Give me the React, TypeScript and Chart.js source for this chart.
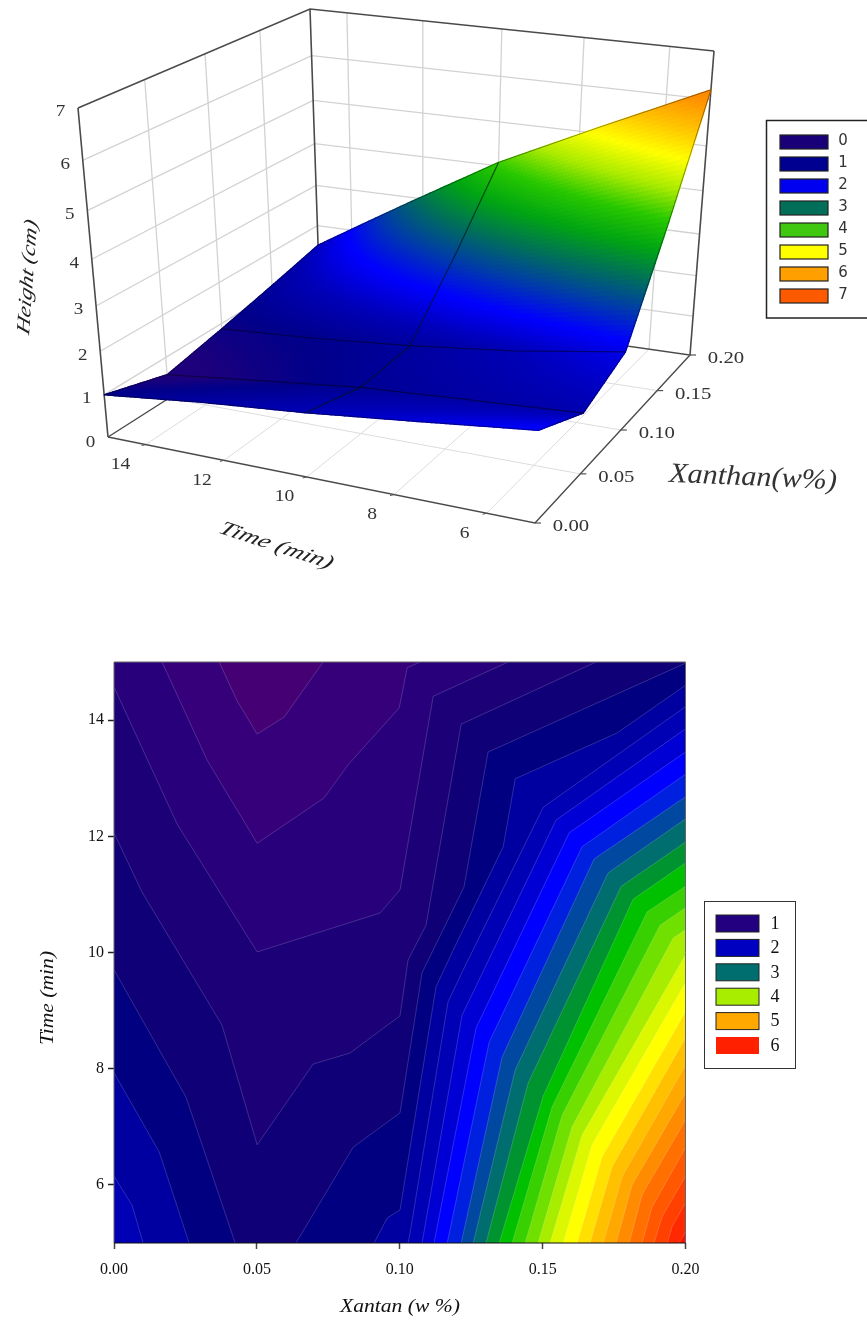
import React, { useEffect, useRef } from "react";
import { Chart, registerables } from "chart.js";
Chart.register(...registerables);

type Pt = [number, number];
type Gap = null;

// ---------- Surface data (height in cm) ----------
const xanthanValues = [0, 0.05, 0.1, 0.15, 0.2];
const timeValues = [15, 12.5, 10, 7.5, 5];
const heightAt15 = [1.0, 0.58, 0.87, 1.18, 1.5];
const heightAt12_5 = [1.26, 0.84, 1.0, 1.9, 2.8];
const heightAt10 = [1.47, 1.1, 1.2, 2.6, 4.08];
const heightAt7_5 = [1.74, 1.25, 1.47, 3.3, 5.15];
const heightAt5 = [2.03, 1.4, 1.85, 3.98, 6.2];
const heightRows = [heightAt15, heightAt12_5, heightAt10, heightAt7_5, heightAt5];

const heightTicks = [0, 1, 2, 3, 4, 5, 6, 7];
const timeTicks3d = [14, 12, 10, 8, 6];
const xanthanTicks3d = [0, 0.05, 0.1, 0.15, 0.2];
const legendTop = ["0", "1", "2", "3", "4", "5", "6", "7"];
const legendTopColors = ["#1a0078", "#000090", "#0000f0", "#006e58", "#40c810", "#ffff00", "#ffa000", "#ff5a00"];
const legendBottom = ["1", "2", "3", "4", "5", "6"];
const legendBottomColors = ["#220080", "#0000c0", "#006e6e", "#a8ec00", "#ffa800", "#ff2000"];

// ---------- Contour lines: [xanthan, time] ----------
const contourA: (Pt | Gap)[] = [[0.0368, 15], [0.0431, 14.33], [0.0501, 13.76], [0.0595, 14.05], [0.0732, 15]];
const contourB: (Pt | Gap)[] = [[0.0168, 15], [0.0326, 13.31], [0.0501, 11.88], [0.0735, 12.66], [0.0819, 13.23], [0.0998, 14.21], [0.1026, 14.9], [0.1071, 15]];
const contourC: (Pt | Gap)[] = [[0, 14.57], [0.0221, 12.21], [0.0501, 10.01], [0.0931, 10.68], [0.1001, 11.08], [0.1117, 14.41], [0.1379, 15]];
const contour3: (Pt | Gap)[] = [[0, 12.06], [0.0098, 11.04], [0.0378, 8.75], [0.0501, 6.69], [0.0697, 8.08], [0.0826, 8.27], [0.1001, 8.91], [0.1029, 9.87], [0.1092, 10.47], [0.1215, 13.93], [0.1687, 15]];
const contour4: (Pt | Gap)[] = [[0, 9.7], [0.0252, 7.51], [0.0424, 5], null, [0.0637, 5], [0.0837, 6.65], [0.1001, 7.24], [0.1078, 9.65], [0.1225, 11.13], [0.1309, 13.45], [0.2, 14.98]];
const contour5: (Pt | Gap)[] = [[0, 7.93], [0.0158, 6.57], [0.0263, 5], null, [0.091, 5], [0.0956, 5.43], [0.1001, 5.57], [0.1127, 9.41], [0.1187, 10.04], [0.1362, 11.82], [0.1404, 12.99], [0.1761, 13.78], [0.2, 14.6]];
const contour6: (Pt | Gap)[] = [[0, 6.15], [0.0063, 5.65], [0.0102, 5], null, [0.1029, 5], [0.1036, 5.17], [0.1169, 9.15], [0.1222, 9.7], [0.1502, 12.5], [0.2, 14.23]];
const contour7: (Pt | Gap)[] = [[0.1078, 5], [0.1218, 8.92], [0.1547, 12.28], [0.2, 13.85]];
const contour8: (Pt | Gap)[] = [[0.112, 5], [0.1267, 8.7], [0.1593, 12.06], [0.2, 13.45]];
const contour9: (Pt | Gap)[] = [[0.1166, 5], [0.1313, 8.46], [0.1638, 11.82], [0.2, 13.07]];
const contour10: (Pt | Gap)[] = [[0.1215, 5], [0.1358, 8.2], [0.168, 11.61], [0.2, 12.68]];
const contour11: (Pt | Gap)[] = [[0.1257, 5], [0.1404, 7.98], [0.1729, 11.37], [0.2, 12.3]];
const contour12: (Pt | Gap)[] = [[0.1302, 5], [0.1449, 7.75], [0.1775, 11.14], [0.2, 11.9]];
const contour13: (Pt | Gap)[] = [[0.1348, 5], [0.1502, 7.53], [0.1817, 10.92], [0.2, 11.54]];
const contour14: (Pt | Gap)[] = [[0.1393, 5], [0.1533, 7.34], [0.1866, 10.7], [0.2, 11.14]];
const contour15: (Pt | Gap)[] = [[0.1439, 5], [0.1568, 7.2], [0.1911, 10.47], [0.2, 10.77]];
const contour16: (Pt | Gap)[] = [[0.1484, 5], [0.1603, 7.0], [0.1957, 10.25], [0.2, 10.39]];
const contour17: (Pt | Gap)[] = [[0.1526, 5], [0.1638, 6.86], [0.2, 9.96]];
const contour18: (Pt | Gap)[] = [[0.1572, 5], [0.1673, 6.69], [0.2, 9.48]];
const contour19: (Pt | Gap)[] = [[0.1621, 5], [0.1708, 6.48], [0.2, 8.98]];
const contour20: (Pt | Gap)[] = [[0.1666, 5], [0.1743, 6.31], [0.2, 8.53]];
const contour21: (Pt | Gap)[] = [[0.1712, 5], [0.1778, 6.14], [0.2, 8.06]];
const contour22: (Pt | Gap)[] = [[0.1757, 5], [0.1813, 6.0], [0.2, 7.58]];
const contour23: (Pt | Gap)[] = [[0.1803, 5], [0.1848, 5.83], [0.2, 7.12]];
const contour24: (Pt | Gap)[] = [[0.1848, 5], [0.1883, 5.62], [0.2, 6.64]];
const contour25: (Pt | Gap)[] = [[0.189, 5], [0.1918, 5.45], [0.2, 6.15]];
const contour26: (Pt | Gap)[] = [[0.1936, 5], [0.1953, 5.28], [0.2, 5.69]];
const contour27: (Pt | Gap)[] = [[0.1978, 5], [0.2, 5.19]];

// lowest band first: each line bounds the region below it
const contourLines = [contourA, contourB, contourC, contour3, contour4, contour5, contour6, contour7, contour8, contour9,
  contour10, contour11, contour12, contour13, contour14, contour15, contour16, contour17, contour18, contour19,
  contour20, contour21, contour22, contour23, contour24, contour25, contour26, contour27];
const bandColors = ["#450074", "#35007a", "#28007c", "#1c0078", "#100078", "#000080", "#0000a0", "#0000b4", "#0000d4", "#0000ff",
  "#0020e0", "#0048a0", "#006e6e", "#009430", "#00c000", "#38d000", "#70e000", "#a8ec00", "#dcf800", "#ffff00",
  "#ffe000", "#ffc000", "#ffa800", "#ff8c00", "#ff7000", "#ff5800", "#ff4000", "#ff2800"];
const topBandColor = "#ff1000";
const timeTicks2d = [6, 8, 10, 12, 14];

// ---------- 3D projection ----------
type XY = [number, number];
function quadMap(p0: XY, p1: XY, p2: XY, p3: XY) {
  const dx1 = p1[0] - p2[0], dx2 = p3[0] - p2[0], sx = p0[0] - p1[0] + p2[0] - p3[0];
  const dy1 = p1[1] - p2[1], dy2 = p3[1] - p2[1], sy = p0[1] - p1[1] + p2[1] - p3[1];
  const den = dx1 * dy2 - dx2 * dy1;
  const g = (sx * dy2 - dx2 * sy) / den, h = (dx1 * sy - sx * dy1) / den;
  const a = p1[0] - p0[0] + g * p1[0], b = p3[0] - p0[0] + h * p3[0], c = p0[0];
  const d = p1[1] - p0[1] + g * p1[1], e = p3[1] - p0[1] + h * p3[1], f = p0[1];
  return (s: number, r: number): XY => {
    const w = g * s + h * r + 1;
    return [(a * s + b * r + c) / w, (d * s + e * r + f) / w];
  };
}
const floorMap = quadMap([108, 437], [320, 302], [690, 355], [535, 523]);
const roofMap = quadMap([78, 108], [310, 9], [714, 51], [548, 173]);
const ZK = 1.134;
function project(x: number, t: number, z: number): { x: number; y: number } {
  const s = x / 0.2, r = (15 - t) / 10;
  const F = floorMap(s, r), T = roofMap(s, r);
  const f = z / 7;
  const p = f / (ZK - (ZK - 1) * f);
  return { x: F[0] + (T[0] - F[0]) * p, y: F[1] + (T[1] - F[1]) * p };
}
function heightOf(x: number, t: number) {
  const i = Math.min(3, Math.floor(x / 0.05 + 1e-9));
  const j = Math.min(3, Math.floor((15 - t) / 2.5 + 1e-9));
  const u = x / 0.05 - i, v = (15 - t) / 2.5 - j;
  const a = heightRows[j][i], b = heightRows[j][i + 1], c = heightRows[j + 1][i], d = heightRows[j + 1][i + 1];
  return (a * (1 - u) + b * u) * (1 - v) + (c * (1 - u) + d * u) * v;
}
const colorStops: [number, number[]][] = [
  [0, [34, 0, 120]], [0.7, [30, 0, 124]], [1, [0, 0, 140]], [1.5, [0, 0, 185]], [2, [0, 0, 255]], [2.5, [0, 60, 170]],
  [3, [0, 112, 90]], [3.5, [0, 165, 20]], [4, [40, 200, 0]], [4.5, [170, 235, 0]], [5, [255, 255, 0]], [5.5, [255, 195, 0]],
  [6, [255, 145, 0]], [7, [255, 80, 0]],
];
function colorOf(z: number) {
  for (let i = 1; i < colorStops.length; i++) {
    if (z <= colorStops[i][0]) {
      const [z0, c0] = colorStops[i - 1], [z1, c1] = colorStops[i];
      const q = Math.max(0, (z - z0) / (z1 - z0));
      return `rgb(${c0.map((v, k) => Math.round(v + (c1[k] - v) * q)).join(",")})`;
    }
  }
  return "rgb(255,80,0)";
}

function text(ctx: CanvasRenderingContext2D, str: string, x: number, y: number,
  o: { font: string; sx?: number; rot?: number; skew?: number; color?: string }) {
  ctx.save();
  ctx.translate(x, y);
  if (o.rot) ctx.rotate((o.rot * Math.PI) / 180);
  if (o.skew) ctx.transform(1, 0, o.skew, 1, 0, 0);
  if (o.sx) ctx.scale(o.sx, 1);
  ctx.font = o.font;
  ctx.fillStyle = o.color || "#222";
  ctx.textAlign = "center";
  ctx.textBaseline = "middle";
  ctx.fillText(str, 0, 0);
  ctx.restore();
}

function line(points: { x: number; y: number }[], color: string, width: number, extra: any = {}) {
  return { data: points, showLine: true, borderColor: color, borderWidth: width, pointRadius: 0, tension: 0, ...extra };
}

function build3dDatasets() {
  const wall = "#d2d2d2", floor = "#dcdcdc", box = "#4a4a4a";
  const top: any[] = [];
  const poly = (pts: number[][]) => pts.map(([x, t]) => project(x, t, heightOf(x, t)));
  [0.05, 0.1].forEach((x) => top.push(line(poly(timeValues.map((t) => [x, t])), "rgba(0,0,20,0.5)", 1.2)));
  top.push(line(poly(xanthanValues.map((x) => [x, 10])), "rgba(0,20,20,0.65)", 1.2));
  const outline = [
    ...xanthanValues.map((x) => [x, 15]),
    ...timeValues.slice(1).map((t) => [0.2, t]),
    ...xanthanValues.slice(0, 4).reverse().map((x) => [x, 5]),
    ...timeValues.slice(0, 4).reverse().map((t) => [0, t]),
  ];
  top.push(line(poly(outline), "rgba(0,0,0,0.4)", 1, { surfaceBelow: true }));

  const under: any[] = [];
  const C = (x: number, t: number, z: number) => project(x, t, z);
  under.push(line([C(0, 15, 7), C(0.2, 15, 7), C(0.2, 5, 7)], box, 1.6));
  under.push(line([C(0, 15, 0), C(0, 15, 7)], box, 1.6));
  under.push(line([C(0.2, 15, 0), C(0.2, 15, 7)], box, 1.6));
  under.push(line([C(0.2, 5, 0), C(0.2, 5, 7)], box, 1.6));
  under.push(line([C(0, 15, 0), C(0, 5, 0), C(0.2, 5, 0), C(0.2, 15, 0), C(0, 15, 0)], box, 1.4));
  heightTicks.slice(1, 7).forEach((z) => under.push(line([C(0, 15, z), C(0.2, 15, z), C(0.2, 5, z)], wall, 1.3)));
  xanthanTicks3d.slice(1, 4).forEach((x) => under.push(line([C(x, 15, 0), C(x, 15, 7)], wall, 1.3)));
  timeTicks3d.forEach((t) => under.push(line([C(0.2, t, 0), C(0.2, t, 7)], wall, 1.3)));
  xanthanTicks3d.slice(1, 4).forEach((x) => under.push(line([C(x, 5, 0), C(x, 15, 0)], floor, 1)));
  timeTicks3d.forEach((t) => under.push(line([C(0, t, 0), C(0.2, t, 0)], floor, 1)));
  return [...top, ...under];
}

const surfacePlugin = {
  id: "surface3d",
  beforeDatasetDraw(chart: any, args: any) {
    if (!chart.data.datasets[args.index].surfaceBelow) return;
    const ctx = chart.ctx, sx = chart.scales.x, sy = chart.scales.y;
    const P = (x: number, t: number) => {
      const p = project(x, t, heightOf(x, t));
      return [sx.getPixelForValue(p.x), sy.getPixelForValue(p.y)];
    };
    const n = 100;
    ctx.save();
    ctx.lineWidth = 1.4;
    ctx.lineJoin = "round";
    for (let j = 0; j < n; j++) {
      for (let i = n - 1; i >= 0; i--) {
        const x0 = (i / n) * 0.2, x1 = ((i + 1) / n) * 0.2;
        const t0 = 15 - (j / n) * 10, t1 = 15 - ((j + 1) / n) * 10;
        const q = [P(x0, t0), P(x1, t0), P(x1, t1), P(x0, t1)];
        const col = colorOf(heightOf((x0 + x1) / 2, (t0 + t1) / 2));
        ctx.fillStyle = col;
        ctx.strokeStyle = col;
        ctx.beginPath();
        q.forEach((p, k) => (k ? ctx.lineTo(p[0], p[1]) : ctx.moveTo(p[0], p[1])));
        ctx.closePath();
        ctx.fill();
        ctx.stroke();
      }
    }
    ctx.restore();
  },
  afterDraw(chart: any) {
    const ctx = chart.ctx as CanvasRenderingContext2D;
    const serif = "'Liberation Serif'";
    heightTicks.forEach((z) => {
      const p = project(0, 15, z);
      text(ctx, String(z), p.x - 17.5, p.y + (z === 0 ? 6 : 4), { font: `17px ${serif}`, sx: 1.12, color: "#333" });
    });
    timeTicks3d.forEach((t) => {
      const p = project(0, t, 0);
      text(ctx, String(t), p.x - 22 + (t === 14 ? -3 : 0), p.y + 20, { font: `17px ${serif}`, sx: 1.15, color: "#333" });
      ctx.strokeStyle = "#555";
      ctx.lineWidth = 1;
      ctx.beginPath();
      ctx.moveTo(p.x, p.y);
      ctx.lineTo(p.x - 4, p.y + 1);
      ctx.stroke();
    });
    xanthanTicks3d.forEach((x) => {
      const p = project(x, 5, 0);
      text(ctx, x.toFixed(2), p.x + 36, p.y + 4, { font: `17px ${serif}`, sx: 1.22, color: "#333" });
      ctx.strokeStyle = "#555";
      ctx.lineWidth = 1.2;
      ctx.beginPath();
      ctx.moveTo(p.x, p.y);
      ctx.lineTo(p.x + 6, p.y);
      ctx.stroke();
    });
    text(ctx, "Height (cm)", 28, 277, { font: `italic 19px ${serif}`, sx: 1.25, rot: -86, skew: -0.25 });
    text(ctx, "Time (min)", 276, 546, { font: `italic 20px ${serif}`, sx: 1.35, rot: 18, skew: -0.3 });
    text(ctx, "Xanthan(w%)", 753, 478, { font: `italic 28px ${serif}`, sx: 1.08, rot: 2.5, color: "#333" });
    ctx.strokeStyle = "#222";
    ctx.lineWidth = 1.5;
    ctx.strokeRect(766.5, 120.5, 110, 197.5);
    legendTop.forEach((l, i) => {
      const y = 135 + i * 22;
      ctx.fillStyle = legendTopColors[i];
      ctx.fillRect(780, y, 48, 14);
      ctx.strokeStyle = "#222";
      ctx.lineWidth = 1.2;
      ctx.strokeRect(780, y, 48, 14);
      text(ctx, l, 843, y + 6, { font: "15px 'DejaVu Sans'", color: "#333" });
    });
  },
};

const contourPlugin = {
  id: "contourFill",
  beforeDatasetsDraw(chart: any) {
    const ctx = chart.ctx as CanvasRenderingContext2D;
    const { left, right, top, bottom } = chart.chartArea;
    const sx = chart.scales.x, sy = chart.scales.y;
    ctx.save();
    ctx.beginPath();
    ctx.rect(left, top, right - left, bottom - top);
    ctx.clip();
    ctx.fillStyle = topBandColor;
    ctx.fillRect(left, top, right - left, bottom - top);
    for (let k = contourLines.length - 1; k >= 0; k--) {
      const pts = contourLines[k].filter(Boolean) as Pt[];
      const closure: Pt[] = k <= 1 ? [] : k <= 3 ? [[0, 15]] : k <= 6 ? [[0.2, 15], [0, 15]] : [[0.2, 15], [0, 15], [0, 5]];
      ctx.beginPath();
      [...pts, ...closure].forEach((p, i) => {
        const X = sx.getPixelForValue(p[0]), Y = sy.getPixelForValue(p[1]);
        if (i) ctx.lineTo(X, Y);
        else ctx.moveTo(X, Y);
      });
      ctx.closePath();
      ctx.fillStyle = bandColors[k];
      ctx.fill();
    }
    ctx.restore();
  },
  afterDraw(chart: any) {
    const ctx = chart.ctx as CanvasRenderingContext2D;
    const { left, right, top, bottom } = chart.chartArea;
    ctx.strokeStyle = "#666";
    ctx.lineWidth = 1;
    ctx.beginPath();
    ctx.moveTo(left, bottom);
    ctx.lineTo(left, top);
    ctx.lineTo(right, top);
    ctx.lineTo(right, bottom);
    ctx.stroke();
    ctx.strokeStyle = "#111";
    ctx.beginPath();
    ctx.moveTo(left, bottom);
    ctx.lineTo(right, bottom);
    ctx.stroke();
    const serif = "'Liberation Serif'";
    text(ctx, "Xantan (w %)", 400, 667, { font: `italic 18px ${serif}`, sx: 1.2, color: "#111" });
    text(ctx, "Time (min)", 48, 358, { font: `italic 18px ${serif}`, sx: 1.2, rot: -90, color: "#111" });
    ctx.strokeStyle = "#333";
    ctx.lineWidth = 1;
    ctx.strokeRect(704.5, 261.5, 91, 167);
    legendBottom.forEach((l, i) => {
      const y = 275 + i * 24.4;
      ctx.fillStyle = legendBottomColors[i];
      ctx.fillRect(716, y, 43, 17);
      if (i < 5) {
        ctx.strokeStyle = "#222";
        ctx.strokeRect(716, y, 43, 17);
      }
      text(ctx, l, 775, y + 9, { font: `18px ${serif}`, color: "#111" });
    });
  },
};

export default function App() {
  const topRef = useRef<HTMLCanvasElement>(null);
  const botRef = useRef<HTMLCanvasElement>(null);
  useEffect(() => {
    const top = new Chart(topRef.current!, {
      type: "scatter",
      data: { datasets: build3dDatasets() },
      plugins: [surfacePlugin],
      options: {
        animation: false,
        responsive: false,
        devicePixelRatio: 1,
        layout: { padding: 0 },
        plugins: { legend: { display: false }, tooltip: { enabled: false } },
        scales: {
          x: { type: "linear", min: 0, max: 867, display: false },
          y: { type: "linear", min: 0, max: 640, reverse: true, display: false },
        },
      },
    } as any);
    const tickFont = { family: "'Liberation Serif'", size: 16 };
    const bot = new Chart(botRef.current!, {
      type: "scatter",
      data: {
        datasets: contourLines.map((ln) => ({
          data: ln.map((p) => (p ? { x: p[0], y: p[1] } : { x: null, y: null })),
          showLine: true,
          spanGaps: false,
          borderColor: "rgba(255,255,255,0.22)",
          borderWidth: 0.8,
          pointRadius: 0,
          tension: 0,
        })),
      },
      plugins: [contourPlugin],
      options: {
        animation: false,
        responsive: false,
        devicePixelRatio: 1,
        layout: { padding: { top: 22, right: 181.5, left: 0, bottom: 0 } },
        plugins: { legend: { display: false }, tooltip: { enabled: false } },
        scales: {
          x: {
            type: "linear",
            min: 0,
            max: 0.2,
            afterBuildTicks: (s: any) => { s.ticks = [0, 0.05, 0.1, 0.15, 0.2].map((value) => ({ value })); },
            afterFit: (s: any) => { s.height = 77; },
            grid: { drawOnChartArea: false, tickLength: 6, tickColor: "#444", tickWidth: 1.5 },
            border: { display: false },
            ticks: { font: tickFont, color: "#111", padding: 11, maxRotation: 0, callback: (v: any) => Number(v).toFixed(2) },
          },
          y: {
            type: "linear",
            min: 5,
            max: 15,
            afterBuildTicks: (s: any) => { s.ticks = timeTicks2d.map((value) => ({ value })); },
            afterFit: (s: any) => { s.width = 114; },
            grid: { drawOnChartArea: false, tickLength: 6, tickColor: "#222", tickWidth: 1.5 },
            border: { display: false },
            ticks: { font: tickFont, color: "#111", padding: 4 },
          },
        },
      },
    } as any);
    return () => {
      top.destroy();
      bot.destroy();
    };
  }, []);
  return (
    <div style={{ position: "absolute", left: 0, top: 0, width: 867, height: 1320, overflow: "hidden", background: "#fff" }}>
      <canvas ref={topRef} width={867} height={640} style={{ position: "absolute", left: 0, top: 0 }} />
      <canvas ref={botRef} width={867} height={680} style={{ position: "absolute", left: 0, top: 640 }} />
    </div>
  );
}
